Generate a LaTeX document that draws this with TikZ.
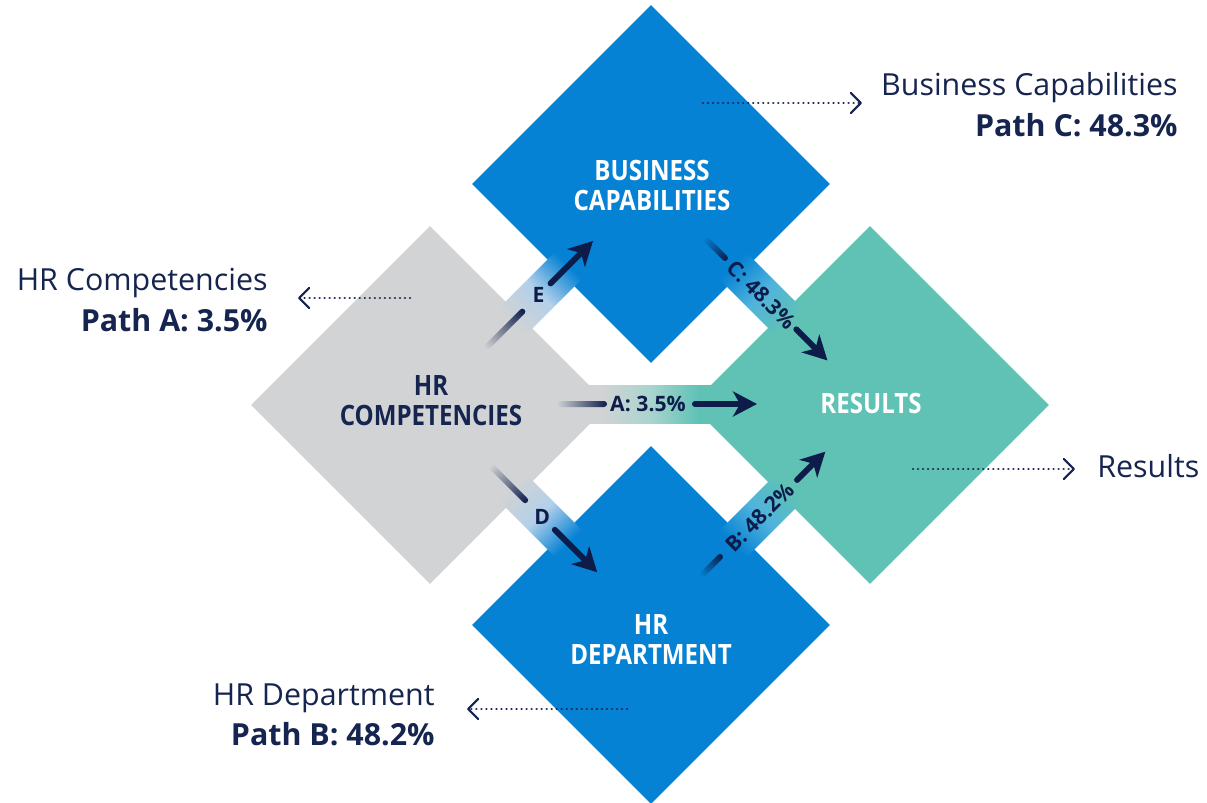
\documentclass[tikz,border=0pt]{standalone}
\usepackage{fontspec}
\setmainfont{Open Sans}
\newfontfamily\condfont[FakeStretch=0.86]{Open Sans}
\usetikzlibrary{arrows.meta,fadings,shapes.geometric}
\definecolor{cgray}{HTML}{D1D3D4}
\definecolor{cblue}{HTML}{0682D4}
\definecolor{cteal}{HTML}{5FC2B5}
\definecolor{cnavy}{HTML}{0E1C4A}
\definecolor{ctext}{HTML}{16254F}
\definecolor{midGB}{HTML}{B3D0EA}
\definecolor{midBT}{HTML}{4FB3DC}
\definecolor{midGT}{HTML}{AAD4CF}
\pgfdeclarehorizontalshading{bandGB}{100bp}{color(0bp)=(cgray); color(40bp)=(cgray); color(50bp)=(midGB); color(60bp)=(cblue); color(100bp)=(cblue)}
\pgfdeclarehorizontalshading{bandBT}{100bp}{color(0bp)=(cblue); color(40bp)=(cblue); color(50bp)=(midBT); color(60bp)=(cteal); color(100bp)=(cteal)}
\pgfdeclarehorizontalshading{bandGT}{100bp}{color(0bp)=(cgray); color(38bp)=(cgray); color(50bp)=(midGT); color(62bp)=(cteal); color(100bp)=(cteal)}
\tikzfading[name=tailfade, left color=transparent!100, right color=transparent!0]
\begin{document}
\begin{tikzpicture}[x=0.5pt,y=-0.5pt,
  dmd/.style={diamond, shape aspect=1, minimum width=179pt, minimum height=179pt, inner sep=0pt, draw=none},
  dlabel/.style={align=center, inner sep=0pt, font=\condfont\bfseries\fontsize{14}{15}\selectfont},
  blabel/.style={inner sep=0pt, text=cnavy, font=\bfseries\fontsize{10.6}{12}\selectfont},
  tail/.style={fill=cnavy, rounded corners=1.5pt, path fading=tailfade},
  arr/.style={draw=cnavy, line width=3pt, line cap=round, -{Stealth[length=12pt,width=12.5pt,inset=3.5pt]}},
  dotarr/.style={draw=ctext, line width=1.3pt, line cap=round, dash pattern=on 0.01pt off 2.5pt, -{Straight Barb[round,length=5pt,width=10pt,line width=1.1pt]}},
  ctxt/.style={inner sep=0pt, text=ctext, font=\fontsize{15.2}{18}\selectfont},
  ctxtb/.style={inner sep=0pt, text=ctext, font=\bfseries\fontsize{15.2}{18}\selectfont}]
\useasboundingbox[fill=white] (0,0) rectangle (1207,803);
% diamonds
\node[dmd, fill=cblue] (bc) at (651,184) {};
\node[dmd, fill=cblue] (hrd) at (651,625) {};
\node[dmd, fill=cgray] (hrc) at (430,405) {};
\node[dmd, fill=cteal] (res) at (870,405) {};
% band A
\begin{scope}[transform canvas={shift={(650,404)}}]
  \shade[shading=bandGT] (-100,-19) rectangle (100,19);
  \fill[tail] (-93,-3) rectangle (-43,3);
  \node[blabel] (lA) at (-2,0) {A: 3.5\%};
  \coordinate (aS) at (45,0); \coordinate (aT) at (107,0);
  \draw[arr] (aS) -- (aT);
\end{scope}
% band E
\begin{scope}[transform canvas={shift={(540,294)},rotate=45}]
  \shade[shading=bandGB] (-100,-19) rectangle (100,19);
  \fill[tail] (-77,-3) rectangle (-22,3);
  \node[blabel, rotate=-45] (lE) at (-2,0) {E};
  \coordinate (eS) at (15,0); \coordinate (eT) at (75,0);
  \draw[arr] (eS) -- (eT);
\end{scope}
% band C
\begin{scope}[transform canvas={shift={(761,294)},rotate=-45}]
  \shade[shading=bandBT] (-100,-19) rectangle (100,19);
  \fill[tail] (-80,-3) rectangle (-48,3);
  \node[blabel] (lC) at (1,0) {C: 48.3\%};
  \coordinate (cS) at (50,0); \coordinate (cT) at (94,0);
  \draw[arr] (cS) -- (cT);
\end{scope}
% band D
\begin{scope}[transform canvas={shift={(540,515)},rotate=-45}]
  \shade[shading=bandGB] (-100,-19) rectangle (100,19);
  \fill[tail] (-70,-3) rectangle (-18,3);
  \node[blabel, rotate=45] (lD) at (3,0) {D};
  \coordinate (dS) at (21,0); \coordinate (dT) at (81,0);
  \draw[arr] (dS) -- (dT);
\end{scope}
% band B
\begin{scope}[transform canvas={shift={(761,516)},rotate=45}]
  \shade[shading=bandBT] (-100,-19) rectangle (100,19);
  \fill[tail] (-85,-3) rectangle (-55,3);
  \node[blabel] (lB) at (-2,0) {B: 48.2\%};
  \coordinate (bS) at (51,0); \coordinate (bT) at (91,0);
  \draw[arr] (bS) -- (bT);
\end{scope}
% diamond labels
\node[dlabel, text=white] (tbc) at (652,185.5) {BUSINESS\\CAPABILITIES};
\node[dlabel, text=ctext] (thrc) at (431,400.5) {HR\\COMPETENCIES};
\node[dlabel, text=white] (thrd) at (651,640) {HR\\DEPARTMENT};
\node[dlabel, text=white] (tres) at (871,403.5) {RESULTS};
% callouts
\node[ctxt, anchor=base east] (c1a) at (1178,95) {Business Capabilities};
\node[ctxtb, anchor=base east] (c1b) at (1178,136) {Path C: 48.3\%};
\node[ctxt, anchor=base east] (c2a) at (268,290) {HR Competencies};
\node[ctxtb, anchor=base east] (c2b) at (268,331) {Path A: 3.5\%};
\node[ctxt, anchor=base west] (c3a) at (1097,477) {Results};
\node[ctxt, anchor=base east] (c4a) at (435,705) {HR Department};
\node[ctxtb, anchor=base east] (c4b) at (435,745) {Path B: 48.2\%};
\coordinate (p1s) at (703,103); \coordinate (p1e) at (862,103);
\coordinate (p2s) at (410,298); \coordinate (p2e) at (298,298);
\coordinate (p3s) at (913,469); \coordinate (p3e) at (1075,469);
\coordinate (p4s) at (627,709); \coordinate (p4e) at (467,709);
\draw[dotarr] (p1s) -- (p1e);
\draw[dotarr] (p2s) -- (p2e);
\draw[dotarr] (p3s) -- (p3e);
\draw[dotarr] (p4s) -- (p4e);
\end{tikzpicture}
\end{document}
